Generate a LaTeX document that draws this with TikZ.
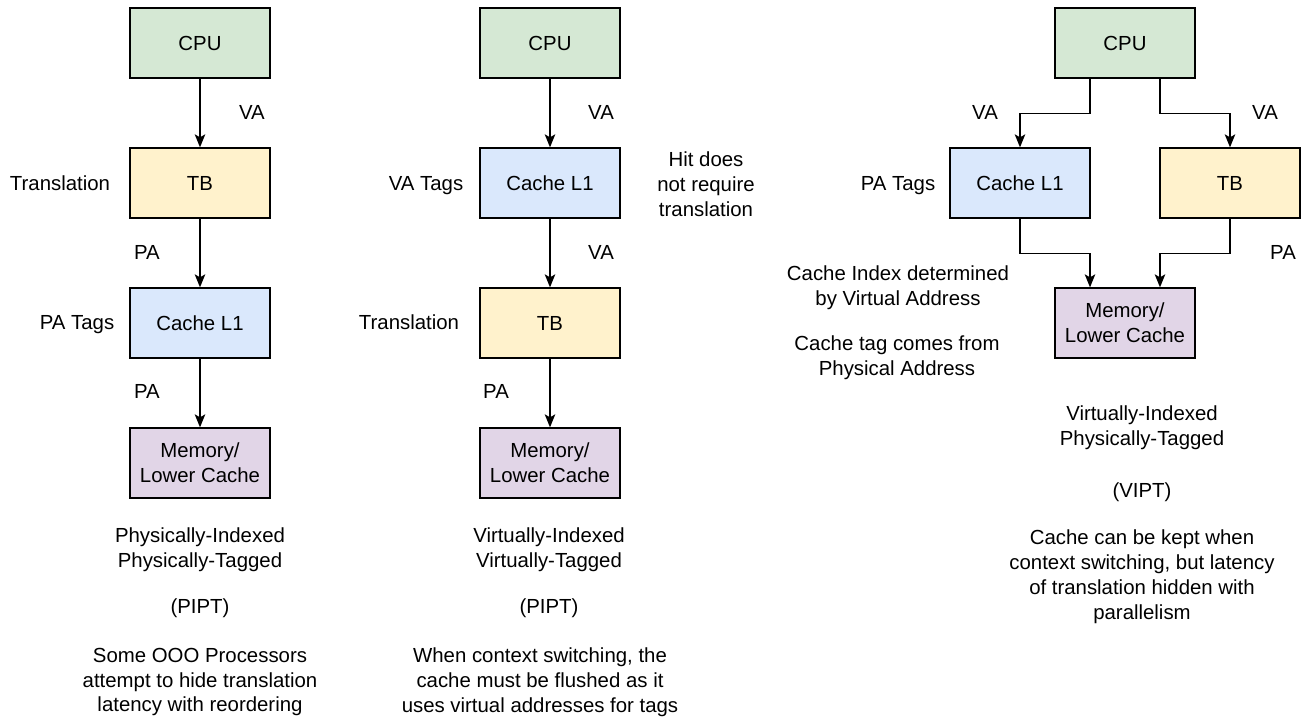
\documentclass[tikz,border=0pt]{standalone}
\usepackage{fontspec}
\setmainfont{Liberation Sans}
\usetikzlibrary{arrows.meta}
\pgfdeclarelayer{edgelayer}
\pgfdeclarelayer{nodelayer}
\pgfsetlayers{edgelayer,nodelayer,main}
\definecolor{cpufill}{HTML}{D5E8D4}
\definecolor{tbfill}{HTML}{FFF2CC}
\definecolor{cachefill}{HTML}{DAE8FC}
\definecolor{memfill}{HTML}{E1D5E7}
\newcommand{\diafont}{\fontsize{11.6}{14.2}\selectfont}
\tikzstyle{none}=[inner sep=0pt, align=center, font=\diafont]
\tikzstyle{box}=[draw=black, line width=0.75pt, minimum width=2.8cm, minimum height=1.4cm, inner sep=0pt, align=center, font=\diafont]
\tikzstyle{cpu}=[box, fill=cpufill]
\tikzstyle{tb}=[box, fill=tbfill]
\tikzstyle{cache}=[box, fill=cachefill]
\tikzstyle{mem}=[box, fill=memfill]
\tikzstyle{flow}=[-{Stealth[length=2.6mm, width=2.1mm, inset=0.6mm]}, line width=0.75pt]

\begin{document}
\begin{tikzpicture}[x=0.02cm, y=-0.02cm]
	\useasboundingbox (0, 0) rectangle (1303, 720);
	\begin{pgfonlayer}{nodelayer}
		% PIPT column
		\node [style=cpu] (0) at (200, 43) {CPU};
		\node [style=tb] (1) at (200, 183) {TB};
		\node [style=cache] (2) at (200, 323) {Cache L1};
		\node [style=mem] (3) at (200, 463) {Memory/\\Lower Cache};
		% VIVT column
		\node [style=cpu] (4) at (550, 43) {CPU};
		\node [style=cache] (5) at (550, 183) {Cache L1};
		\node [style=tb] (6) at (550, 323) {TB};
		\node [style=mem] (7) at (550, 463) {Memory/\\Lower Cache};
		% VIPT column
		\node [style=cpu] (8) at (1125, 43) {CPU};
		\node [style=cache] (9) at (1020, 183) {Cache L1};
		\node [style=tb] (10) at (1230, 183) {TB};
		\node [style=mem] (11) at (1125, 323) {Memory/\\Lower Cache};

		\node [style=none, anchor=base] (12) at (252, 119) {VA};
		\node [style=none, anchor=base] (13) at (60, 190) {Translation};
		\node [style=none, anchor=base] (14) at (147, 259) {PA};
		\node [style=none, anchor=base] (15) at (77, 329) {PA Tags};
		\node [style=none, anchor=base] (16) at (147, 398) {PA};
		\node [style=none] (17) at (200, 550) {Physically-Indexed\\Physically-Tagged};
		\node [style=none, anchor=base] (18) at (200, 613) {(PIPT)};
		\node [style=none] (19) at (200, 682) {Some OOO Processors\\attempt to hide translation\\latency with reordering};

		\node [style=none, anchor=base] (20) at (601, 119) {VA};
		\node [style=none, anchor=base] (21) at (426, 190) {VA Tags};
		\node [style=none] (22) at (706, 184) {Hit does\\not require\\translation};
		\node [style=none, anchor=base] (23) at (601, 259) {VA};
		\node [style=none, anchor=base] (24) at (409, 329) {Translation};
		\node [style=none, anchor=base] (25) at (496, 398) {PA};
		\node [style=none] (26) at (549, 550) {Virtually-Indexed\\Virtually-Tagged};
		\node [style=none, anchor=base] (27) at (549, 613) {(PIPT)};
		\node [style=none] (28) at (540, 682) {When context switching, the\\cache must be flushed as it\\uses virtual addresses for tags};

		\node [style=none, anchor=base] (29) at (985, 119) {VA};
		\node [style=none, anchor=base] (30) at (1265, 119) {VA};
		\node [style=none, anchor=base] (31) at (898, 190) {PA Tags};
		\node [style=none, anchor=base] (32) at (1283, 259) {PA};
		\node [style=none] (33) at (898, 288) {Cache Index determined\\by Virtual Address};
		\node [style=none] (34) at (897, 358) {Cache tag comes from\\Physical Address};
		\node [style=none] (35) at (1142, 428) {Virtually-Indexed\\Physically-Tagged};
		\node [style=none, anchor=base] (36) at (1142, 497) {(VIPT)};
		\node [style=none] (37) at (1142, 577) {Cache can be kept when\\context switching, but latency\\of translation hidden with\\parallelism};
	\end{pgfonlayer}
	\begin{pgfonlayer}{edgelayer}
		\draw [style=flow] (0) to (1);
		\draw [style=flow] (1) to (2);
		\draw [style=flow] (2) to (3);
		\draw [style=flow] (4) to (5);
		\draw [style=flow] (5) to (6);
		\draw [style=flow] (6) to (7);
		\draw [style=flow] ([xshift=-0.7cm]8.south) -- ++(0, 35) -| (9.north);
		\draw [style=flow] ([xshift=0.7cm]8.south) -- ++(0, 35) -| (10.north);
		\draw [style=flow] (9.south) -- ++(0, 35) -| ([xshift=-0.7cm]11.north);
		\draw [style=flow] (10.south) -- ++(0, 35) -| ([xshift=0.7cm]11.north);
	\end{pgfonlayer}
\end{tikzpicture}
\end{document}
